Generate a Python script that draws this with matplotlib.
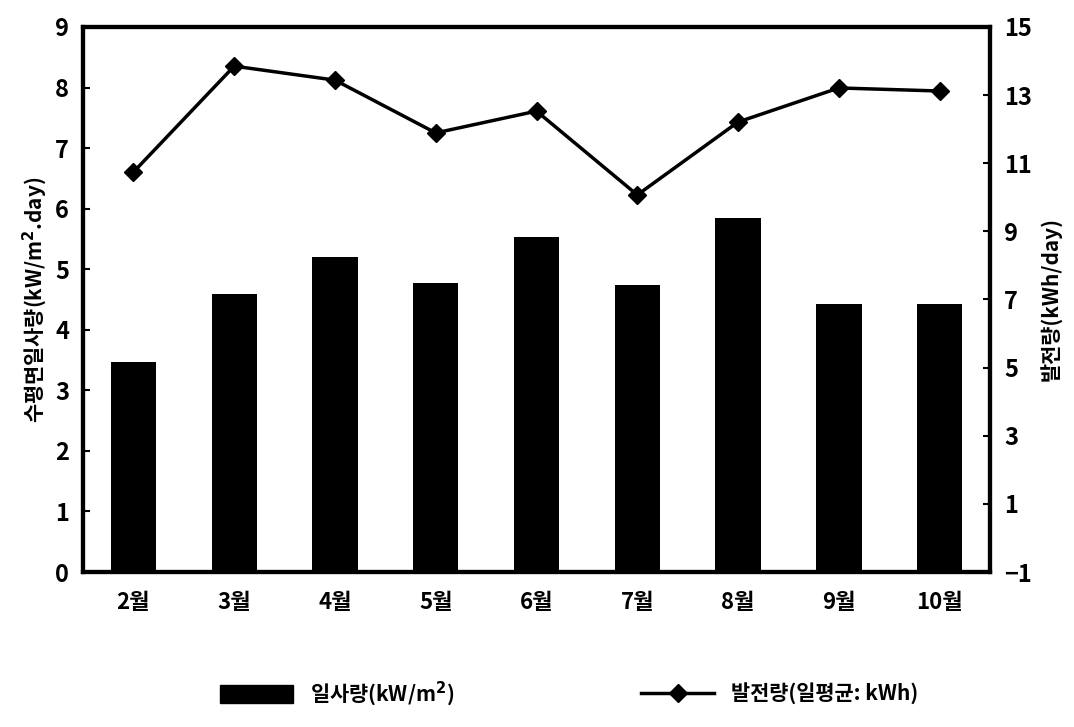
import matplotlib
matplotlib.use('Agg')
import matplotlib.pyplot as plt
from matplotlib.lines import Line2D
from matplotlib.patches import Patch

plt.rcParams['font.family'] = ['Noto Sans CJK KR', 'DejaVu Sans']
plt.rcParams['font.weight'] = 'bold'

months = ['2월', '3월', '4월', '5월', '6월', '7월', '8월', '9월', '10월']
insolation = [3.47, 4.59, 5.2, 4.77, 5.53, 4.74, 5.84, 4.42, 4.42]
generation = [10.74, 13.85, 13.44, 11.89, 12.53, 10.07, 12.21, 13.21, 13.12]

fig = plt.figure(figsize=(10.74, 7.27), dpi=100)
ax = fig.add_axes([0.0773, 0.2132, 0.8445, 0.7497])
x = range(len(months))
ax.bar(x, insolation, width=0.45, color='black', zorder=2)
ax.set_xlim(-0.5, len(months) - 0.5)
ax.set_ylim(0, 9)
ax.set_yticks(range(0, 10))
ax.set_xticks(list(x))
ax.set_xticklabels(months, fontsize=16)
ax.tick_params(axis='x', length=0, pad=14)
ax.tick_params(axis='y', direction='in', length=5, width=1.5, labelsize=17, pad=10)
ax.set_ylabel('수평면일사량(kW/m$^2$.day)', fontsize=15, fontweight='bold', labelpad=4)

ax2 = ax.twinx()
ax2.plot(list(x), generation, color='black', lw=2.5, marker='D', markersize=9, zorder=3)
ax2.set_ylim(-1, 15)
ax2.set_yticks(range(-1, 16, 2))
ax2.tick_params(axis='y', direction='in', length=5, width=1.5, labelsize=17, pad=10)
ax2.set_ylabel('발전량(kWh/day)', fontsize=15, fontweight='bold', labelpad=6)

for a in (ax, ax2):
    for s in a.spines.values():
        s.set_linewidth(3)

handles = [Patch(color='black', label='일사량(kW/m$^2$)'),
           Line2D([0], [0], color='black', lw=2.5, marker='D', markersize=9,
                  label='발전량(일평균: kWh)')]
fig.legend(handles=handles, loc='lower center', ncol=2, frameon=False,
           fontsize=15, bbox_to_anchor=(0.53, 0.0), columnspacing=9,
           handlelength=3.5, handleheight=1.0)

fig.savefig('out.png', dpi=100)
